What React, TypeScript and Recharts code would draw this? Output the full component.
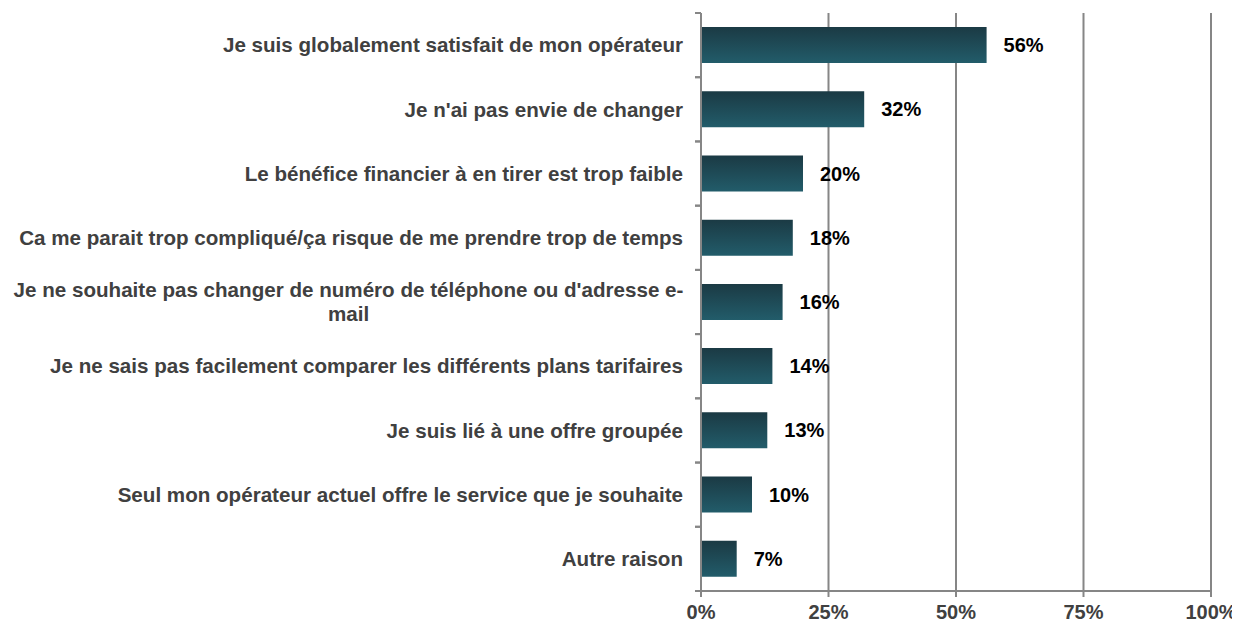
import React from "react";
import {
  Bar,
  BarChart,
  CartesianGrid,
  LabelList,
  XAxis,
  YAxis,
} from "recharts";

const reasons = [
  "Je suis globalement satisfait de mon opérateur",
  "Je n'ai pas envie de changer",
  "Le bénéfice financier à en tirer est trop faible",
  "Ca me parait trop compliqué/ça risque de me prendre trop de temps",
  "Je ne souhaite pas changer de numéro de téléphone ou d'adresse e-mail",
  "Je ne sais pas facilement comparer les différents plans tarifaires",
  "Je suis lié à une offre groupée",
  "Seul mon opérateur actuel offre le service que je souhaite",
  "Autre raison",
];
const shares = [56, 32, 20, 18, 16, 14, 13, 10, 7];
const xTicks = [0, 25, 50, 75, 100];

const data = reasons.map((reason, i) => ({ reason, share: shares[i] }));

const W = 1232;
const H = 616;
const TOP = 5;
const X_AXIS_H = 33;
const BAND = (H - TOP - X_AXIS_H) / reasons.length;
const GRAY = "#868686";
const FONT = "'Liberation Sans', Arial, sans-serif";

function wrap(text: string, max: number) {
  if (text.length <= max) return [text];
  let cut = -1;
  for (let i = 0; i < max; i++) {
    if (text[i] === " ") cut = i;
    if (text[i] === "-") cut = i + 1;
  }
  if (cut <= 0) return [text];
  return [text.slice(0, cut).trim(), ...wrap(text.slice(cut).trim(), max)];
}

function CategoryTick(props: any) {
  const { x, y, payload } = props;
  const lines = wrap(String(payload.value), 66);
  const lh = 24;
  const y0 = y - ((lines.length - 1) * lh) / 2;
  return (
    <g>
      <line x1={x + 2} x2={x + 8} y1={y - BAND / 2} y2={y - BAND / 2} stroke={GRAY} strokeWidth={2} />
      <line x1={x + 2} x2={x + 8} y1={y + BAND / 2} y2={y + BAND / 2} stroke={GRAY} strokeWidth={2} />
      {lines.length === 1 ? (
        <text x={x - 10} y={y0} dy="0.35em" textAnchor="end" fill="#404040" fontSize={20.6} fontWeight="bold" fontFamily={FONT}>
          {lines[0]}
        </text>
      ) : (
        <text x={(x - 4) / 2} y={y0} textAnchor="middle" fill="#404040" fontSize={20.6} fontWeight="bold" fontFamily={FONT}>
          {lines.map((l, i) => (
            <tspan key={i} x={(x - 4) / 2} y={y0 + i * lh} dy="0.35em">
              {l}
            </tspan>
          ))}
        </text>
      )}
    </g>
  );
}

export default function App() {
  return (
    <BarChart
      width={W}
      height={H}
      data={data}
      layout="vertical"
      margin={{ top: TOP, right: 29, bottom: 0, left: 0 }}
    >
      <defs>
        <linearGradient id="barFill" x1="0" y1="0" x2="0" y2="1">
          <stop offset="0%" stopColor="#1b3a44" />
          <stop offset="100%" stopColor="#225c6a" />
        </linearGradient>
      </defs>
      <CartesianGrid horizontal={false} stroke={GRAY} strokeWidth={2} />
      <XAxis
        type="number"
        domain={[0, 100]}
        ticks={xTicks}
        tickFormatter={(v) => `${v}%`}
        height={X_AXIS_H}
        stroke={GRAY}
        strokeWidth={2}
        tickSize={6}
        tickMargin={8}
        tick={{ fill: "#404040", fontSize: 20, fontWeight: "bold", fontFamily: FONT }}
        interval={0}
      />
      <YAxis
        type="category"
        dataKey="reason"
        width={693}
        stroke={GRAY}
        strokeWidth={2}
        tickLine={false}
        tick={<CategoryTick />}
        interval={0}
      />
      <Bar dataKey="share" fill="url(#barFill)" barSize={36} isAnimationActive={false}>
        <LabelList
          dataKey="share"
          position="right"
          offset={17}
          formatter={(v: any) => `${v}%`}
          fill="#000"
          fontSize={20}
          fontWeight="bold"
          fontFamily={FONT}
        />
      </Bar>
    </BarChart>
  );
}
